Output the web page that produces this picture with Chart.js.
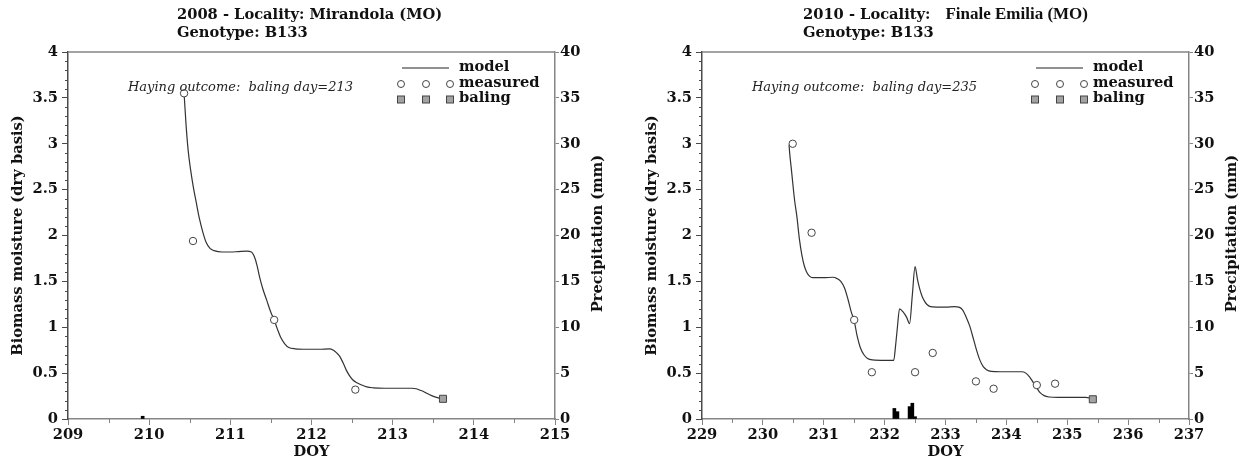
<!DOCTYPE html>
<html>
<head>
<meta charset="utf-8">
<script src="https://cdn.jsdelivr.net/npm/chart.js@4.4.0/dist/chart.umd.min.js"></script>
<style>
  html, body { margin: 0; padding: 0; background: #fff; }
  #wrap { position: relative; width: 1247px; height: 463px; overflow: hidden; }
  canvas { position: absolute; top: 0; }
</style>
</head>
<body>
<div id="wrap">
  <canvas id="c2008" width="623" height="463" style="left:0"></canvas>
  <canvas id="c2010" width="624" height="463" style="left:623px"></canvas>
</div>
<script>
// ---- 2008, Mirandola (MO) ----
const doyModel2008 = [210.43, 210.455, 210.48, 210.51, 210.54, 210.58, 210.62, 210.66, 210.70, 210.75, 210.80, 210.90, 211.00, 211.10, 211.20, 211.26,
  211.30, 211.33, 211.36, 211.40, 211.45, 211.50, 211.54, 211.58, 211.62, 211.67, 211.72, 211.80, 211.95, 212.10, 212.22, 212.27,
  212.31, 212.35, 212.39, 212.43, 212.47, 212.51, 212.56, 212.62, 212.68, 212.76, 212.90, 213.10, 213.24, 213.29, 213.33, 213.38,
  213.42, 213.48, 213.54, 213.62];
const moistModel2008 = [3.55, 3.20, 2.93, 2.72, 2.55, 2.36, 2.18, 2.04, 1.93, 1.86, 1.835, 1.82, 1.82, 1.825, 1.83, 1.82,
  1.76, 1.67, 1.55, 1.42, 1.29, 1.16, 1.08, 0.98, 0.89, 0.82, 0.78, 0.765, 0.76, 0.76, 0.765, 0.75,
  0.72, 0.68, 0.61, 0.53, 0.47, 0.425, 0.395, 0.37, 0.35, 0.34, 0.335, 0.335, 0.335, 0.33, 0.316, 0.30,
  0.28, 0.255, 0.236, 0.22];
const doyMeasured2008 = [210.43, 210.54, 211.54, 212.54];
const moistMeasured2008 = [3.55, 1.94, 1.08, 0.32];
const doyBaling2008 = [213.62];
const moistBaling2008 = [0.22];
const doyRain2008 = [209.92];
const rainMm2008 = [0.3];

// ---- 2010, Finale Emilia (MO) ----
const doyModel2010 = [230.43, 230.44, 230.47, 230.52, 230.56, 230.60, 230.64, 230.68, 230.72, 230.77, 230.83, 231.00, 231.15, 231.22,
  231.28, 231.34, 231.40, 231.45, 231.50, 231.55, 231.60, 231.66, 231.72, 231.80, 232.00, 232.15, 232.18, 232.21, 232.245,
  232.30, 232.36, 232.41, 232.455, 232.50, 232.54, 232.58, 232.62, 232.66, 232.70, 232.75, 232.85, 233.00, 233.15, 233.22,
  233.28, 233.34, 233.40, 233.46, 233.51, 233.56, 233.62, 233.68, 233.75, 233.90, 234.10, 234.25, 234.32, 234.38, 234.44,
  234.49, 234.55, 234.62, 234.70, 234.85, 235.10, 235.30, 235.42];
const moistModel2010 = [2.99, 2.90, 2.71, 2.39, 2.20, 1.96, 1.79, 1.67, 1.60, 1.555, 1.54, 1.54, 1.545, 1.53,
  1.50, 1.43, 1.30, 1.17, 1.07, 0.90, 0.78, 0.70, 0.66, 0.645, 0.64, 0.64, 0.80, 1.00, 1.20,
  1.17, 1.11, 1.04, 1.35, 1.66, 1.52, 1.41, 1.33, 1.28, 1.245, 1.225, 1.22, 1.22, 1.225, 1.22,
  1.19, 1.11, 1.01, 0.87, 0.75, 0.65, 0.57, 0.535, 0.52, 0.515, 0.515, 0.515, 0.50, 0.46, 0.40,
  0.35, 0.29, 0.255, 0.24, 0.235, 0.235, 0.235, 0.22];
const doyMeasured2010 = [230.49, 230.80, 231.50, 231.79, 232.50, 232.79, 233.50, 233.79, 234.50, 234.80];
const moistMeasured2010 = [3.00, 2.03, 1.08, 0.51, 0.51, 0.72, 0.41, 0.33, 0.37, 0.385];
const doyBaling2010 = [235.42];
const moistBaling2010 = [0.215];
const doyRain2010 = [232.16, 232.21, 232.41, 232.455, 232.50];
const rainMm2010 = [1.15, 0.8, 1.35, 1.72, 0.25];

// ---- shared axis text ----
const moistureTicks = [0, 0.5, 1, 1.5, 2, 2.5, 3, 3.5, 4];
const rainTicks = [0, 5, 10, 15, 20, 25, 30, 35, 40];
const legendLabels = ['model', 'measured', 'baling'];
const rainAxisTitle = 'Precipitation (mm)';

const SERIF = "'DejaVu Serif', serif";
const FS = 14.67; // 11pt
const boldFont = { family: SERIF, size: FS, weight: 'bold' };
const BOLD = 'bold ' + FS + 'px ' + SERIF;
const AXIS_DARK = '#4a4a4a';
const AXIS_GREY = '#858585';

const toPoints = (xs, ys) => xs.map((x, i) => ({ x: x, y: ys[i] }));

// minor ticks, frame top line, rain-axis title, titles, legend and note
const panelDecor = {
  id: 'panelDecor',
  afterDraw(chart, args, opts) {
    const ctx = chart.ctx;
    const area = chart.chartArea;
    const xs = chart.scales.x, ys = chart.scales.y;
    ctx.save();

    // top frame line
    ctx.strokeStyle = AXIS_GREY;
    ctx.lineWidth = 1.5;
    ctx.beginPath();
    ctx.moveTo(area.left, area.top);
    ctx.lineTo(area.right, area.top);
    ctx.stroke();

    // minor ticks on the moisture axis (every 0.1)
    ctx.strokeStyle = AXIS_DARK;
    ctx.lineWidth = 1;
    for (let k = 1; k < 40; k++) {
      if (k % 5 === 0) continue;
      const py = Math.round(ys.getPixelForValue(k / 10)) + 0.5;
      ctx.beginPath();
      ctx.moveTo(area.left - 3, py);
      ctx.lineTo(area.left, py);
      ctx.stroke();
    }
    // minor ticks on DOY axis (half days)
    ctx.strokeStyle = AXIS_GREY;
    for (let d = xs.min + 0.5; d < xs.max; d += 1) {
      const px = Math.round(xs.getPixelForValue(d)) + 0.5;
      ctx.beginPath();
      ctx.moveTo(px, area.bottom);
      ctx.lineTo(px, area.bottom + 4);
      ctx.stroke();
    }

    // rain axis title, reading upwards
    ctx.fillStyle = '#111';
    ctx.font = BOLD;
    ctx.textAlign = 'center';
    ctx.textBaseline = 'middle';
    ctx.save();
    ctx.translate(opts.rainTitleX, (area.top + area.bottom) / 2 - 2);
    ctx.rotate(-Math.PI / 2);
    ctx.fillText(rainAxisTitle, 0, 0);
    ctx.restore();

    // panel title (two lines)
    ctx.textAlign = 'left';
    let tx = opts.titleX;
    opts.titleLine1.forEach(part => {
      ctx.font = part.font;
      ctx.fillText(part.text, tx, 15);
      tx += ctx.measureText(part.text).width + (part.gap || 0);
    });
    ctx.font = BOLD;
    ctx.fillText(opts.titleLine2, opts.titleX, 33);

    // note
    ctx.font = 'italic 13px ' + SERIF;
    ctx.fillStyle = '#222';
    ctx.fillText(opts.note, area.left + opts.noteDx, 88);

    // legend
    const r = area.right;
    const mx = [r - 154, r - 129, r - 105];
    ctx.strokeStyle = '#222';
    ctx.lineWidth = 1.2;
    ctx.beginPath();
    ctx.moveTo(r - 153, 68);
    ctx.lineTo(r - 106, 68);
    ctx.stroke();
    ctx.lineWidth = 1;
    mx.forEach(x => {
      ctx.beginPath();
      ctx.arc(x, 84, 3.5, 0, Math.PI * 2);
      ctx.fillStyle = '#fff';
      ctx.fill();
      ctx.strokeStyle = '#444';
      ctx.stroke();
      ctx.fillStyle = '#a3a3a3';
      ctx.fillRect(x - 3.5, 96, 7, 7);
      ctx.strokeRect(x - 3.5, 96, 7, 7);
    });
    ctx.fillStyle = '#111';
    ctx.font = BOLD;
    ctx.fillText(legendLabels[0], r - 96, 67);
    ctx.fillText(legendLabels[1], r - 96, 83);
    ctx.fillText(legendLabels[2], r - 96, 98);

    ctx.restore();
  }
};

function buildPanel(canvasId, d) {
  return new Chart(document.getElementById(canvasId), {
    type: 'scatter',
    data: {
      datasets: [
        {
          type: 'line',
          label: legendLabels[0],
          data: toPoints(d.modelX, d.modelY),
          borderColor: '#333',
          borderWidth: 1.2,
          pointRadius: 0,
          fill: false,
          cubicInterpolationMode: 'monotone',
          yAxisID: 'y',
          order: 2
        },
        {
          type: 'scatter',
          label: legendLabels[1],
          data: toPoints(d.measX, d.measY),
          pointStyle: 'circle',
          pointRadius: 3.7,
          pointBackgroundColor: '#fff',
          pointBorderColor: '#444',
          pointBorderWidth: 1,
          yAxisID: 'y',
          order: 0
        },
        {
          type: 'scatter',
          label: legendLabels[2],
          data: toPoints(d.balX, d.balY),
          pointStyle: 'rect',
          pointRadius: 5,
          pointBackgroundColor: '#a3a3a3',
          pointBorderColor: '#444',
          pointBorderWidth: 1,
          yAxisID: 'y',
          order: 1
        },
        {
          type: 'bar',
          label: 'rain',
          data: toPoints(d.rainX, d.rainY),
          backgroundColor: '#000',
          borderWidth: 0,
          barThickness: 3,
          yAxisID: 'y1',
          order: 3
        }
      ]
    },
    options: {
      responsive: false,
      animation: false,
      events: [],
      layout: { padding: { top: 52, left: 0, right: 0, bottom: 0 } },
      plugins: {
        legend: { display: false },
        tooltip: { enabled: false },
        panelDecor: d.decor
      },
      scales: {
        x: {
          type: 'linear',
          position: 'bottom',
          min: d.xMin,
          max: d.xMax,
          offset: false,
          afterFit: s => { s.height = 44; },
          afterBuildTicks: s => { s.ticks = d.dayTicks.map(v => ({ value: v })); },
          ticks: { font: boldFont, color: '#111', padding: 1, maxRotation: 0, autoSkip: false },
          grid: { drawOnChartArea: false, drawTicks: true, tickLength: 6, tickColor: AXIS_GREY, tickWidth: 1, offset: false },
          border: { display: true, color: AXIS_GREY, width: 1.5 },
          title: { display: true, text: 'DOY', font: boldFont, color: '#111', padding: { top: 0, bottom: 2 } }
        },
        y: {
          type: 'linear',
          position: 'left',
          min: 0,
          max: 4,
          afterFit: s => { s.width = d.leftW; },
          afterBuildTicks: s => { s.ticks = moistureTicks.map(v => ({ value: v })); },
          ticks: { font: boldFont, color: '#111', padding: 4, callback: v => String(+v.toFixed(1)) },
          grid: { drawOnChartArea: false, drawTicks: true, tickLength: 6, tickColor: AXIS_DARK, tickWidth: 1 },
          border: { display: true, color: AXIS_DARK, width: 1.5 },
          title: { display: true, text: 'Biomass moisture (dry basis)', font: boldFont, color: '#111', padding: { top: d.leftTitlePad, bottom: 0 } }
        },
        y1: {
          type: 'linear',
          position: 'right',
          min: 0,
          max: 40,
          afterFit: s => { s.width = d.rightW; },
          afterBuildTicks: s => { s.ticks = rainTicks.map(v => ({ value: v })); },
          ticks: { font: boldFont, color: '#111', padding: 1 },
          grid: { drawOnChartArea: false, drawTicks: true, tickLength: 4, tickColor: AXIS_GREY, tickWidth: 1 },
          border: { display: true, color: AXIS_GREY, width: 1.5 },
          title: { display: false }
        }
      }
    },
    plugins: [panelDecor]
  });
}

buildPanel('c2008', {
  modelX: doyModel2008, modelY: moistModel2008,
  measX: doyMeasured2008, measY: moistMeasured2008,
  balX: doyBaling2008, balY: moistBaling2008,
  rainX: doyRain2008, rainY: rainMm2008,
  xMin: 209, xMax: 215,
  dayTicks: [209, 210, 211, 212, 213, 214, 215],
  leftW: 68, rightW: 68, leftTitlePad: 9.5,
  decor: {
    titleX: 177,
    titleLine1: [{ text: '2008 - Locality: Mirandola (MO)', font: BOLD }],
    titleLine2: 'Genotype: B133',
    note: 'Haying outcome:  baling day=213',
    noteDx: 60,
    rainTitleX: 598
  }
});

buildPanel('c2010', {
  modelX: doyModel2010, modelY: moistModel2010,
  measX: doyMeasured2010, measY: moistMeasured2010,
  balX: doyBaling2010, balY: moistBaling2010,
  rainX: doyRain2010, rainY: rainMm2010,
  xMin: 229, xMax: 237,
  dayTicks: [229, 230, 231, 232, 233, 234, 235, 236, 237],
  leftW: 79, rightW: 58, leftTitlePad: 20,
  decor: {
    titleX: 180,
    titleLine1: [
      { text: '2010 - Locality:', font: BOLD, gap: 15 },
      { text: 'Finale Emilia (MO)', font: "bold 17px 'Liberation Serif', serif" }
    ],
    titleLine2: 'Genotype: B133',
    note: 'Haying outcome:  baling day=235',
    noteDx: 50,
    rainTitleX: 609
  }
});
</script>
</body>
</html>
